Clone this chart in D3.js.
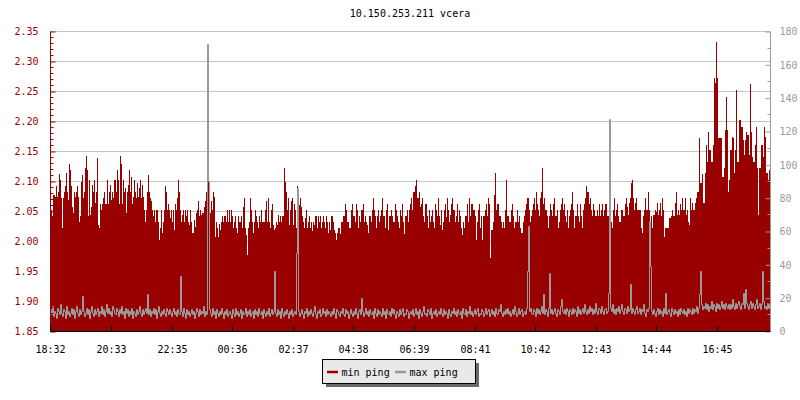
<!DOCTYPE html>
<html>
<head>
<meta charset="utf-8">
<script src="https://cdn.jsdelivr.net/npm/d3@7"></script>
<style>
  html, body { margin: 0; padding: 0; background: #ffffff; }
  svg { display: block; }
  text { font-family: "DejaVu Sans Mono", "Liberation Mono", monospace; font-size: 10px; }
</style>
</head>
<body>
<svg id="chart" width="800" height="400"></svg>
<script>
// ---------------- data ----------------
const chartTitle = "10.150.253.211 vcera";
const startLabel = "18:32";
const stepMinutes = 2;
const spanHours = 24;

const timeTickLabels = ["18:32","20:33","22:35","00:36","02:37","04:38","06:39","08:41","10:42","12:43","14:44","16:45"];
const leftTicks = [1.85,1.90,1.95,2.00,2.05,2.10,2.15,2.20,2.25,2.30,2.35];
const rightTicks = [0,20,40,60,80,100,120,140,160,180];
const seriesNames = ["min ping", "max ping"];

// min ping (left axis)
const minPing = [
// 18:32 - 23:20
2.06,2.052,2.042,2.077,2.077,2.074,2.092,2.074,2.082,2.112,2.102,2.071,2.022,2.071,2.082,2.092,
2.113,2.082,2.068,2.129,2.118,2.091,2.056,2.047,2.082,2.074,2.082,2.092,2.074,2.032,2.042,2.099,
2.11,2.072,2.082,2.121,2.142,2.119,2.042,2.102,2.043,2.057,2.093,2.082,2.102,2.064,2.082,2.138,
2.027,2.022,2.062,2.052,2.062,2.071,2.082,2.062,2.062,2.102,2.062,2.082,2.093,2.068,2.082,2.071,
2.102,2.102,2.082,2.118,2.102,2.062,2.142,2.129,2.062,2.102,2.082,2.088,2.046,2.082,2.093,2.119,
2.082,2.107,2.062,2.074,2.102,2.082,2.071,2.096,2.074,2.088,2.102,2.071,2.093,2.074,2.052,2.032,
2.052,2.082,2.11,2.082,2.071,2.066,2.052,2.042,2.052,2.032,2.052,2.052,2.032,2.002,2.021,2.052,
2.013,2.032,2.052,2.091,2.082,2.052,2.062,2.052,2.038,2.052,2.032,2.052,2.018,2.062,2.052,2.071,
2.102,2.082,2.052,2.032,2.043,2.052,2.032,2.052,2.042,2.052,2.032,2.027,2.052,2.032,2.013,2.013,
// 23:20 - 04:08
2.035,2.024,2.046,2.052,2.066,2.042,2.052,2.043,2.046,2.047,2.057,2.066,2.082,2.102,2.102,2.082,
2.046,2.066,2.052,2.082,2.074,2.007,2.032,2.021,2.007,2.029,2.019,2.032,2.042,2.032,2.042,2.042,
2.032,2.052,2.032,2.052,2.032,2.052,2.042,2.021,2.032,2.042,2.021,2.013,2.041,2.032,2.032,2.042,
2.021,2.057,2.071,2.021,2.01,1.977,2.021,2.032,2.071,2.052,2.032,2.013,2.032,2.052,2.042,2.032,
2.021,2.042,2.032,2.052,2.032,2.032,2.032,2.052,2.066,2.032,2.071,2.032,2.021,2.052,2.062,2.027,
2.018,2.021,2.032,2.027,2.043,2.032,2.042,2.032,2.042,2.042,2.121,2.099,2.082,2.052,2.071,2.027,
2.052,2.066,2.071,2.027,2.062,2.052,2.021,2.091,2.032,2.06,2.071,2.057,2.042,2.032,2.021,2.038,
2.052,2.021,2.032,2.042,2.021,2.032,2.016,2.032,2.027,2.042,2.042,2.021,2.042,2.032,2.042,2.021,
2.032,2.042,2.032,2.021,2.042,2.032,2.013,2.032,2.018,2.042,2.042,2.032,2.018,2.013,2.002,2.013,
// 04:08 - 08:56
2.021,2.021,2.012,2.032,2.032,2.042,2.042,2.062,2.052,2.032,2.032,2.021,2.022,2.052,2.062,2.042,2.042,2.032,2.062,2.052,
2.021,2.042,2.032,2.052,2.052,2.062,2.032,2.042,2.032,2.027,2.013,2.042,2.042,2.032,2.052,2.071,2.052,2.042,2.021,2.042,
2.052,2.032,2.042,2.052,2.071,2.042,2.042,2.021,2.052,2.062,2.018,2.042,2.042,2.052,2.042,2.032,2.032,2.062,2.052,2.042,
2.032,2.021,2.052,2.042,2.062,2.032,2.012,2.042,2.042,2.052,2.032,2.052,2.062,2.071,2.052,2.082,2.082,2.091,2.102,2.072,
2.071,2.082,2.057,2.062,2.071,2.042,2.032,2.062,2.062,2.042,2.021,2.052,2.032,2.042,2.052,2.032,2.021,2.062,2.052,2.042,
2.071,2.042,2.027,2.052,2.018,2.032,2.052,2.062,2.04,2.071,2.052,2.032,2.044,2.062,2.071,2.052,2.052,2.032,2.042,2.062,
2.032,2.052,2.042,2.021,2.01,2.032,2.021,2.042,2.042,2.062,2.032,2.071,2.042,2.062,2.062,2.052,2.052,2.042,2.002,2.032,
2.052,2.062,2.021,2.042,
// 08:56 - 13:44
2.002,2.042,2.042,2.052,2.062,2.042,2.071,2.062,1.972,2.018,2.018,2.032,2.077,2.113,2.052,2.062,2.062,2.042,2.042,2.032,
2.021,2.032,2.021,2.052,2.102,2.042,2.042,2.032,2.032,2.052,2.062,2.042,2.021,2.032,2.032,2.052,2.032,2.042,2.021,2.013,
2.013,2.032,2.042,2.052,2.062,2.071,2.071,2.052,2.032,2.042,2.052,2.062,2.071,2.052,2.082,2.062,2.052,2.042,2.071,2.082,
2.121,2.062,2.071,2.052,2.052,2.042,2.021,2.042,2.062,2.052,2.042,2.062,2.071,2.042,2.042,2.052,2.021,2.032,2.052,2.062,
2.071,2.052,2.062,2.042,2.032,2.052,2.021,2.042,2.052,2.062,2.082,2.052,2.021,2.042,2.042,2.062,2.042,2.032,2.062,2.042,
2.021,2.052,2.062,2.071,2.091,2.082,2.082,2.062,2.071,2.052,2.042,2.062,2.052,2.042,2.042,2.052,2.042,2.062,2.042,2.052,
2.062,2.042,2.052,2.062,2.062,2.042,2.042,2.052,2.042,2.032,2.021,2.052,2.071,2.042,2.052,2.062,2.042,2.032,2.032,2.052,
2.052,2.042,2.042,2.062,
// 13:44 - 18:32
2.071,2.057,2.043,2.063,2.071,2.096,2.102,2.071,2.052,2.063,2.071,2.052,2.052,2.052,2.052,2.021,
2.013,2.041,2.052,2.071,2.052,2.052,2.081,2.052,2.021,2.041,2.021,2.043,2.043,2.052,2.049,2.063,
2.043,2.052,2.063,2.041,2.071,2.052,2.007,2.021,2.021,2.021,2.021,2.038,2.038,2.042,2.052,2.042,
2.042,2.063,2.081,2.043,2.052,2.043,2.062,2.052,2.071,2.052,2.052,2.071,2.043,2.052,2.032,2.027,
2.071,2.052,2.063,2.052,2.052,2.063,2.071,2.081,2.081,2.171,2.096,2.096,2.111,2.063,2.063,2.113,
2.16,2.132,2.182,2.152,2.152,2.132,2.132,2.16,2.271,2.263,2.332,2.271,2.171,2.171,2.171,2.171,
2.107,2.107,2.121,2.185,2.24,2.185,2.082,2.102,2.152,2.152,2.174,2.171,2.113,2.152,2.252,2.132,
2.132,2.202,2.202,2.19,2.19,2.168,2.143,2.168,2.182,2.177,2.177,2.143,2.262,2.182,2.14,2.132,
2.132,2.16,2.19,2.121,2.043,2.121,2.121,2.16,2.16,2.14,2.19,2.174,2.113,2.113,2.102,2.118
];

// max ping (right axis)
const maxPing = [
13,10,15,9,12,11,8,14,12,10,16,11,9,13,12,8,15,10,12,9,11,14,10,13,8,12,15,11,9,13,10,12,21,12,9,11,14,10,13,8,
12,15,11,9,13,10,12,14,9,12,11,15,10,13,9,12,16,11,14,10,12,9,15,13,11,10,14,12,9,13,11,15,10,12,8,14,11,13,9,12,
10,14,8,12,11,9,13,10,12,15,11,9,13,10,12,14,11,22,10,13,9,12,11,14,10,13,8,12,15,11,9,12,10,13,11,9,14,12,10,13,
11,9,12,14,10,12,9,13,11,10,33,12,9,14,11,8,13,10,12,9,11,13,10,12,8,11,14,12,9,13,10,12,11,15,9,12,10,172,90,13,
11,9,14,10,12,8,13,11,9,12,10,14,11,8,12,10,13,9,11,12,10,8,13,11,9,14,10,12,9,11,13,8,12,10,11,14,9,12,10,13,
9,11,12,8,13,10,12,9,14,11,10,12,8,13,11,9,12,10,14,9,11,13,10,12,36,11,9,13,10,12,8,14,11,9,12,10,13,11,8,12,
10,13,9,11,12,10,47,86,12,9,11,13,10,8,12,11,14,9,12,10,13,11,9,12,15,10,8,12,11,13,9,10,14,11,12,9,13,10,12,11,
9,12,10,14,11,8,13,12,10,9,12,11,14,10,9,13,11,12,8,10,13,11,9,12,10,14,11,8,12,13,10,20,12,9,11,14,10,12,9,13,
11,10,12,8,14,11,9,13,10,12,11,9,14,10,12,8,13,11,10,12,9,14,11,13,10,8,12,11,9,13,10,12,14,9,11,10,13,12,8,11,
12,10,13,9,11,14,10,12,8,13,11,9,12,15,10,11,9,13,12,10,14,8,11,12,10,13,9,11,12,10,14,11,9,13,10,12,11,8,13,10,
9,12,11,14,10,12,9,13,11,10,12,8,14,11,10,13,9,12,11,15,10,12,9,11,13,10,12,14,9,11,10,13,12,9,11,14,10,12,13,9,
11,13,10,12,9,14,11,10,13,12,16,11,9,12,10,13,11,14,10,12,9,11,13,10,15,12,9,11,14,10,12,13,9,11,12,10,14,36,63,12,
14,11,10,13,12,9,14,11,13,10,12,15,11,22,10,13,12,9,14,35,11,13,10,12,14,11,9,13,12,10,15,19,12,11,13,10,14,12,9,13,
12,10,14,11,13,12,9,15,11,13,10,12,14,11,16,12,10,13,11,15,12,14,10,13,11,17,12,10,14,13,11,15,12,10,13,14,11,12,23,127,
14,12,16,11,13,10,14,12,15,11,13,16,12,10,14,13,11,15,12,13,28,11,14,12,10,13,15,11,12,14,10,13,12,16,11,9,13,12,14,66,
39,12,10,13,11,9,12,14,10,13,11,12,9,14,11,23,10,12,13,11,9,14,12,10,13,11,12,9,13,10,14,12,11,13,10,12,9,14,11,13,
12,10,14,11,13,12,15,11,14,22,36,16,13,15,14,17,13,16,12,15,14,18,13,16,15,12,17,14,16,13,15,18,14,16,13,17,15,14,16,13,
16,14,19,15,13,17,14,16,18,15,13,17,16,23,14,25,17,15,13,16,18,14,17,15,13,16,19,14,15,17,13,16,36,18,14,15,13,17,14,16
];

// ---------------- layout ----------------
const plot = { left: 50, right: 770, top: 31, bottom: 331 };
const colRed = "#990000", colGray = "#9a9a9a", colGrid = "#c4c4c4";

const svg = d3.select("#chart");

const [sh, sm] = startLabel.split(":").map(Number);
const t0 = new Date(2024, 0, 1, sh, sm);
const t1 = new Date(+t0 + spanHours * 3600000);
const times = minPing.map((_, i) => new Date(+t0 + i * stepMinutes * 60000));

const x = d3.scaleTime().domain([t0, t1]).range([plot.left, plot.right]);
const yL = d3.scaleLinear().domain([1.85, 2.35]).range([plot.bottom, plot.top]);
const yR = d3.scaleLinear().domain([0, 180]).range([plot.bottom, plot.top]);

const tickDates = timeTickLabels.map(s => {
  const [h, m] = s.split(":").map(Number);
  let d = new Date(2024, 0, 1, h, m);
  if (d < t0) d = new Date(+d + 24 * 3600000);
  return d;
});

// title
svg.append("text")
  .attr("x", (plot.left + plot.right) / 2)
  .attr("y", 17)
  .attr("text-anchor", "middle")
  .attr("fill", "#000")
  .text(chartTitle);

// gridlines
svg.append("g").selectAll("line")
  .data(leftTicks.filter(v => v > 1.85))
  .join("line")
  .attr("x1", plot.left).attr("x2", plot.right)
  .attr("y1", d => Math.round(yL(d)) + 0.5)
  .attr("y2", d => Math.round(yL(d)) + 0.5)
  .attr("stroke", colGrid)
  .attr("stroke-width", 1);

// bars (min ping)
svg.append("g").attr("shape-rendering", "crispEdges")
  .selectAll("rect")
  .data(minPing)
  .join("rect")
  .attr("x", (d, i) => Math.round(x(times[i])))
  .attr("width", (d, i) => Math.round(x(new Date(+times[i] + stepMinutes * 60000))) - Math.round(x(times[i])))
  .attr("y", d => Math.round(yL(d)))
  .attr("height", d => Math.round(yL(1.85)) - Math.round(yL(d)))
  .attr("fill", colRed);

// line (max ping) - one vertical + one horizontal pixel run per sample
const linePts = maxPing.map((v, i) => [times[i], v]);
linePts.push([t1, maxPing[maxPing.length - 1]]);
const line = d3.line()
  .x(d => Math.round(x(d[0])) + 0.5)
  .y(d => Math.round(yR(d[1])) + 0.5)
  .curve(d3.curveStepAfter);
svg.append("path")
  .datum(linePts)
  .attr("d", line)
  .attr("fill", "none")
  .attr("stroke", colGray)
  .attr("stroke-width", 1)
  .attr("stroke-linecap", "square");

// left axis
const leftAxis = d3.axisLeft(yL)
  .tickValues(leftTicks)
  .tickSize(-5)
  .tickPadding(12)
  .tickFormat(d3.format(".2f"));
const gL = svg.append("g").attr("transform", `translate(${plot.left + 0.5},0.5)`).call(leftAxis);
gL.select(".domain").attr("stroke", colRed).attr("d", `M0,${plot.top}V${plot.bottom}`);
gL.selectAll(".tick line").attr("stroke", colRed);
gL.selectAll(".tick text").attr("fill", colRed)
  .style("font-family", "DejaVu Sans Mono, monospace").style("font-size", "10px");
gL.append("g").selectAll("line")
  .data(d3.range(0, 51).map(i => 1.85 + i * 0.01).filter((v, i) => i % 5 !== 0))
  .join("line")
  .attr("x1", 0).attr("x2", 3)
  .attr("y1", d => Math.round(yL(d))).attr("y2", d => Math.round(yL(d)))
  .attr("stroke", colRed);

// right axis
const rightAxis = d3.axisRight(yR)
  .tickValues(rightTicks)
  .tickSize(-5)
  .tickPadding(9);
const gR = svg.append("g").attr("transform", `translate(${plot.right + 0.5},0.5)`).call(rightAxis);
gR.select(".domain").attr("stroke", colGray).attr("d", `M0,${plot.top}V${plot.bottom}`);
gR.selectAll(".tick line").attr("stroke", colGray);
gR.selectAll(".tick text").attr("fill", colGray)
  .style("font-family", "DejaVu Sans Mono, monospace").style("font-size", "10px");
gR.append("g").selectAll("line")
  .data(d3.range(10, 180, 20))
  .join("line")
  .attr("x1", 0).attr("x2", -3)
  .attr("y1", d => Math.round(yR(d))).attr("y2", d => Math.round(yR(d)))
  .attr("stroke", colGray);

// bottom axis
const bottomAxis = d3.axisBottom(x)
  .tickValues(tickDates)
  .tickSize(-6)
  .tickPadding(14)
  .tickFormat((d, i) => timeTickLabels[i]);
const gB = svg.append("g").attr("transform", `translate(0.5,${plot.bottom + 0.5})`).call(bottomAxis);
gB.select(".domain").attr("stroke", "#000").attr("d", `M${plot.left},0H${plot.right}`);
gB.selectAll(".tick").attr("transform", d => `translate(${Math.round(x(d))},0)`);
gB.selectAll(".tick line").attr("stroke", "#000");
gB.selectAll(".tick text").attr("fill", "#000")
  .style("font-family", "DejaVu Sans Mono, monospace").style("font-size", "10px");

// legend
const lg = { x: 322.5, y: 359.5, w: 153, h: 24 };
svg.append("rect").attr("x", lg.x + 3.5).attr("y", lg.y + 3.5)
  .attr("width", lg.w).attr("height", lg.h).attr("fill", "#6a6a6a");
svg.append("rect").attr("x", lg.x).attr("y", lg.y)
  .attr("width", lg.w).attr("height", lg.h)
  .attr("fill", "#e9e9e9").attr("stroke", "#000").attr("stroke-width", 1);
const legendItems = [
  { name: seriesNames[0], color: colRed, sx: 327, tx: 341.5 },
  { name: seriesNames[1], color: colGray, sx: 395, tx: 409.5 }
];
legendItems.forEach(it => {
  svg.append("line")
    .attr("x1", it.sx).attr("x2", it.sx + 11)
    .attr("y1", 372).attr("y2", 372)
    .attr("stroke", it.color).attr("stroke-width", 2.5);
  svg.append("text").attr("x", it.tx).attr("y", 375.5)
    .attr("fill", "#000").text(it.name);
});
</script>
</body>
</html>
